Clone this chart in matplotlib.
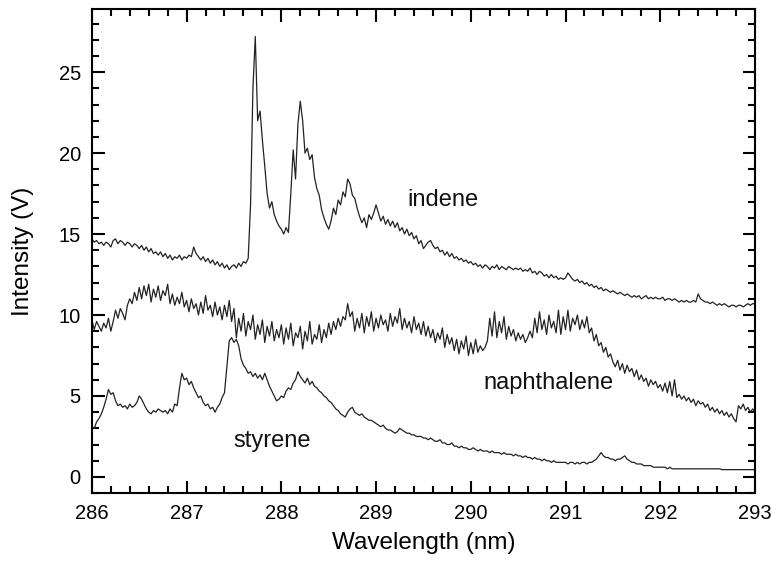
import numpy as np
import matplotlib
matplotlib.use('Agg')
import matplotlib.pyplot as plt
from matplotlib.ticker import MultipleLocator

plt.rcParams['font.family'] = ['Liberation Sans', 'DejaVu Sans']

# wavelength grid, 0.025 nm steps (286 .. 293 nm)
wavelength = np.linspace(286.0, 293.0, 281)

# intensities (V), one value per grid point
indene = [
    14.7, 14.5, 14.6, 14.4, 14.5, 14.3, 14.5, 14.4, 14.2, 14.6, 14.7, 14.4, 14.6, 14.5, 14.3, 14.5, 14.4, 14.2, 14.4, 14.3,
    14.1, 14.3, 14.0, 14.2, 13.9, 14.1, 13.8, 13.9, 13.7, 13.9, 13.6, 13.8, 13.5, 13.7, 13.4, 13.6, 13.5, 13.7, 13.4, 13.6,
    13.5, 13.7, 13.6, 14.2, 13.8, 13.6, 13.4, 13.6, 13.3, 13.5, 13.2, 13.4, 13.1, 13.3, 13.0, 13.2, 12.9, 13.1, 12.8, 13.0,
    13.1, 12.9, 13.2, 13.0, 13.3, 13.2, 13.5, 16.8, 24.0, 27.2, 22.0, 22.6, 20.8, 19.2, 17.5, 16.6, 17.0, 16.2, 15.8, 15.5,
    15.3, 15.0, 15.4, 15.1, 17.5, 20.2, 18.4, 21.8, 23.2, 22.0, 20.0, 20.3, 19.6, 19.9, 18.5, 17.8, 17.4, 16.5, 16.0, 15.6,
    15.3, 15.8, 16.6, 16.2, 17.1, 16.8, 17.6, 17.3, 18.4, 18.1, 17.4, 17.2, 16.6, 16.1, 15.7, 16.0, 15.4, 16.2, 15.9, 16.3,
    16.8, 16.3, 15.8, 16.1, 15.6, 15.9, 15.5, 15.8, 15.4, 15.7, 15.2, 15.4, 15.0, 15.3, 14.9, 15.1, 14.7, 14.9, 14.4, 14.6,
    14.1, 14.3, 14.5, 14.6, 14.3, 14.1, 14.2, 13.9, 14.0, 13.7, 13.9, 13.6, 13.8, 13.5, 13.6, 13.4, 13.5, 13.3, 13.4, 13.2,
    13.3, 13.1, 13.2, 13.0, 13.1, 12.9, 13.1, 13.0, 12.8, 13.0, 12.9, 13.1, 12.8, 13.0, 12.9, 12.8, 13.0, 12.9, 12.8, 12.9,
    12.8, 12.9, 12.7, 12.8, 12.7, 12.9, 12.6, 12.7, 12.5, 12.7, 12.6, 12.4, 12.5, 12.3, 12.5, 12.3, 12.4, 12.2, 12.3, 12.2,
    12.3, 12.6, 12.4, 12.2, 12.1, 12.2, 12.0, 12.1, 11.9, 12.0, 11.8, 11.9, 11.7, 11.8, 11.6, 11.7, 11.5, 11.6, 11.5, 11.4,
    11.5, 11.4, 11.3, 11.4, 11.3, 11.2, 11.3, 11.2, 11.1, 11.2, 11.1, 11.2, 11.0, 11.1, 11.2, 11.0, 11.1, 11.0, 11.1, 11.0,
    11.0, 11.1, 10.9, 11.0, 11.0, 10.9, 11.0, 10.9, 10.8, 10.9, 10.8, 10.9, 10.8, 10.8, 10.9, 10.8, 11.3, 11.0, 10.9, 10.8,
    10.8, 10.7, 10.8, 10.7, 10.6, 10.7, 10.6, 10.7, 10.6, 10.5, 10.6, 10.6, 10.5, 10.6, 10.6, 10.5, 10.6, 10.7, 10.6, 10.7,
    10.7,
]

naphthalene = [
    9.7, 9.1, 9.6, 9.3, 9.0, 9.5, 9.2, 9.8, 9.0, 9.6, 10.3, 9.8, 10.4, 10.1, 9.7, 10.6, 11.0, 10.7, 11.4, 10.9,
    11.7, 11.0, 11.8, 11.2, 11.9, 10.8, 11.6, 11.1, 11.8, 10.9, 11.5, 11.2, 11.9, 10.7, 11.3, 10.6, 11.1, 10.7, 11.4, 10.5,
    10.9, 10.2, 11.0, 10.4, 10.7, 10.0, 10.8, 10.1, 11.2, 10.3, 10.6, 9.9, 10.8, 10.0, 10.5, 9.7, 10.6, 9.9, 10.9, 9.6,
    10.4, 8.6, 9.8, 9.0, 10.1, 8.7, 9.6, 9.1, 10.0, 8.5, 9.4, 8.8, 9.7, 8.3, 9.3, 8.7, 9.6, 8.4, 9.1, 8.6,
    9.4, 8.2, 9.2, 8.5, 9.5, 8.1, 8.9, 8.6, 9.3, 7.9, 9.0, 8.4, 9.6, 8.2, 8.8, 8.5, 9.4, 8.3, 9.1, 8.6,
    9.5, 8.8, 9.6, 9.1, 9.8, 9.3, 9.9, 9.7, 10.7, 9.9, 10.2, 9.0, 9.8, 9.2, 10.1, 8.9, 9.9, 9.3, 10.2, 9.0,
    9.8, 9.2, 10.0, 9.4, 9.7, 9.0, 10.1, 9.3, 9.9, 9.5, 10.4, 9.1, 9.8, 9.2, 9.6, 8.9, 9.9, 9.1, 9.5, 8.8,
    9.6, 8.7, 9.3, 8.6, 9.1, 8.3, 8.9, 8.5, 9.2, 8.0, 8.8, 8.2, 8.6, 7.8, 8.5, 7.6, 8.4, 7.9, 8.7, 7.5,
    8.3, 7.6, 8.5, 7.7, 8.1, 7.8, 8.0, 8.4, 9.8, 8.7, 10.2, 8.6, 9.6, 8.9, 9.9, 8.5, 9.3, 8.7, 9.1, 8.4,
    8.9, 8.5, 8.8, 8.3, 8.6, 9.0, 8.6, 9.8, 8.9, 10.2, 9.1, 9.7, 8.8, 10.0, 9.2, 9.6, 8.9, 10.3, 8.8, 9.9,
    9.1, 10.3, 9.0, 9.8, 9.4, 10.0, 9.1, 9.7, 9.2, 9.9, 8.9, 9.2, 8.4, 8.8, 8.1, 8.3, 7.7, 8.0, 7.4, 7.6,
    7.1, 6.8, 7.2, 6.6, 7.0, 6.4, 6.9, 6.5, 6.7, 6.2, 6.6, 6.0, 6.3, 5.9, 6.1, 5.6, 6.0, 5.7, 5.9, 5.5,
    5.7, 5.3, 5.8, 5.2, 5.9, 5.0, 6.0, 4.9, 5.1, 4.8, 5.0, 4.7, 4.9, 4.6, 4.8, 4.4, 4.7, 4.5, 4.6, 4.3,
    4.5, 4.1, 4.3, 4.0, 4.2, 3.9, 4.1, 3.8, 4.0, 3.7, 3.9, 3.6, 3.4, 4.4, 4.2, 4.5, 4.1, 4.3, 4.0, 4.2,
    4.0,
]

styrene = [
    3.1, 3.0, 3.4, 3.6, 3.9, 4.3, 4.8, 5.4, 5.1, 5.2, 4.7, 4.4, 4.5, 4.3, 4.4, 4.2, 4.5, 4.3, 4.4, 4.6,
    5.0, 4.8, 4.5, 4.2, 4.0, 3.9, 4.1, 4.0, 4.2, 4.1, 4.0, 4.1, 3.9, 4.2, 4.0, 4.5, 4.4, 5.5, 6.4, 6.0,
    6.1, 5.7, 5.9, 5.5, 5.2, 4.9, 5.0, 4.6, 4.4, 4.5, 4.2, 4.3, 4.0, 4.3, 4.5, 4.9, 5.2, 6.8, 8.4, 8.6,
    8.3, 8.5, 8.1, 7.3, 6.9, 6.7, 6.4, 6.5, 6.2, 6.4, 6.1, 6.3, 6.0, 6.4, 6.0, 5.6, 5.3, 5.0, 4.7, 4.8,
    5.0, 4.9, 5.3, 5.5, 5.4, 5.8, 6.0, 6.5, 6.2, 6.0, 5.8, 6.1, 5.7, 5.9, 5.6, 5.5, 5.3, 5.2, 5.0, 4.9,
    4.7, 4.6, 4.4, 4.2, 4.1, 3.9, 3.8, 3.7, 4.0, 4.2, 4.3, 4.0, 3.9, 3.8, 3.9, 3.7, 3.6, 3.5, 3.5, 3.4,
    3.3, 3.2, 3.1, 3.2, 3.0, 2.9, 2.9, 2.8, 2.7, 2.8, 3.0, 2.9, 2.8, 2.7, 2.7, 2.6, 2.6, 2.5, 2.5, 2.5,
    2.4, 2.4, 2.3, 2.4, 2.3, 2.2, 2.2, 2.3, 2.1, 2.1, 2.0, 2.0, 2.1, 1.9, 1.9, 1.8, 1.9, 1.8, 1.8, 1.7,
    1.7, 1.8, 1.7, 1.6, 1.7, 1.6, 1.6, 1.6, 1.5, 1.6, 1.5, 1.5, 1.5, 1.4, 1.5, 1.4, 1.4, 1.4, 1.3, 1.4,
    1.3, 1.3, 1.2, 1.3, 1.2, 1.2, 1.1, 1.2, 1.1, 1.1, 1.0, 1.1, 1.0, 1.0, 0.9, 1.0, 0.9, 0.9, 0.9, 0.9,
    0.9, 0.8, 0.9, 0.9, 0.8, 0.9, 0.8, 0.9, 0.9, 0.8, 0.9, 0.9, 1.0, 1.1, 1.3, 1.5, 1.3, 1.2, 1.2, 1.1,
    1.1, 1.0, 1.1, 1.1, 1.2, 1.3, 1.1, 1.0, 0.9, 0.9, 0.8, 0.8, 0.8, 0.7, 0.7, 0.7, 0.7, 0.6, 0.6, 0.6,
    0.6, 0.6, 0.6, 0.5, 0.6, 0.5, 0.5, 0.5, 0.5, 0.5, 0.5, 0.5, 0.5, 0.5, 0.5, 0.5, 0.5, 0.5, 0.5, 0.5,
    0.5, 0.5, 0.5, 0.5, 0.5, 0.5, 0.45, 0.45, 0.45, 0.45, 0.45, 0.45, 0.45, 0.45, 0.45, 0.45, 0.45, 0.45, 0.45, 0.45,
    0.45,
]

# curve labels and where they sit (data coords)
labels = ['indene', 'naphthalene', 'styrene']
label_pos = [(289.33, 17.1), (290.13, 5.8), (287.49, 2.2)]

fig = plt.figure(figsize=(7.72, 5.61), dpi=100)
ax = fig.add_axes([0.119, 0.121, 0.859, 0.863])

for series in [indene, naphthalene, styrene]:
    ax.plot(wavelength, series, color='#222222', lw=0.9)

for name, (lx, ly) in zip(labels, label_pos):
    ax.text(lx, ly, name, fontsize=17, va='center', ha='left', color='#111111')

ax.set_xlim(286, 293)
ax.set_ylim(-1, 28.9)
ax.xaxis.set_major_locator(MultipleLocator(1))
ax.xaxis.set_minor_locator(MultipleLocator(0.2))
ax.yaxis.set_major_locator(MultipleLocator(5))
ax.yaxis.set_minor_locator(MultipleLocator(1))
ax.tick_params(which='both', direction='in', top=True, right=True, width=1.5, labelsize=14.5)
ax.tick_params(which='major', length=9, pad=8)
ax.tick_params(which='minor', length=5)
for s in ax.spines.values():
    s.set_linewidth(1.5)

ax.set_xlabel('Wavelength (nm)', fontsize=17.5, labelpad=6)
ax.set_ylabel('Intensity (V)', fontsize=17.5, labelpad=18)

plt.savefig('out.png', dpi=100)
plt.close()
